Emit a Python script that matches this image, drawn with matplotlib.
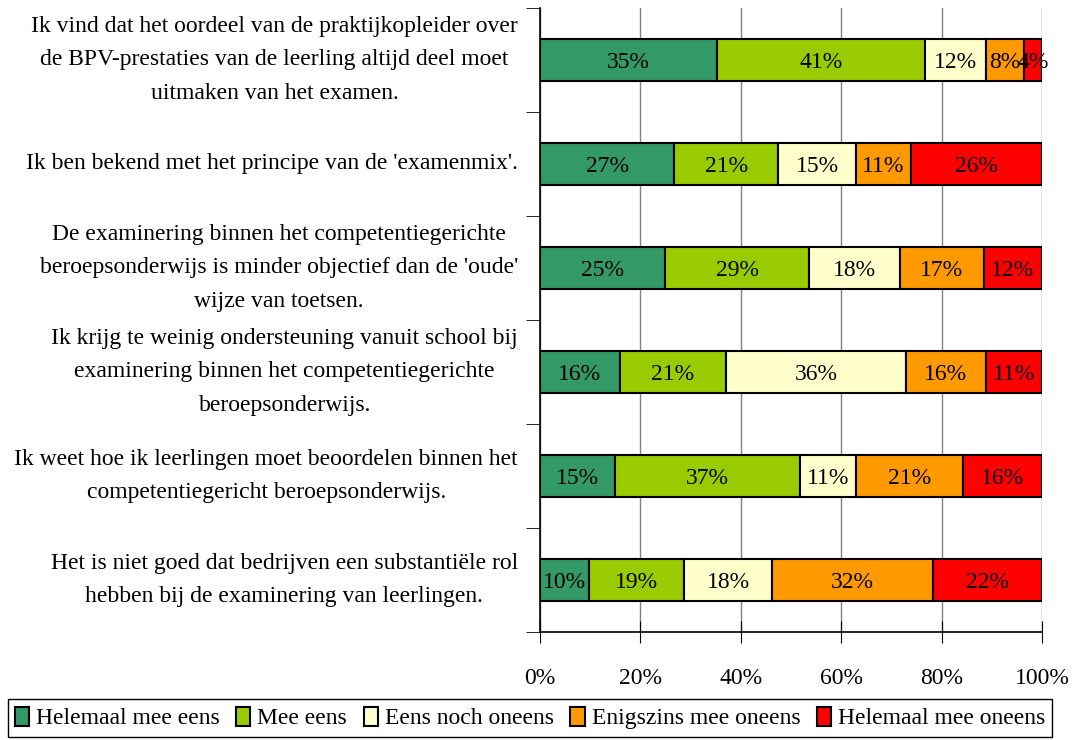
import matplotlib.pyplot as plt
import matplotlib.transforms as mtransforms
import numpy as np

# statements, top to bottom
statements = [
    "Ik vind dat het oordeel van de praktijkopleider over\nde BPV-prestaties van de leerling altijd deel moet\nuitmaken van het examen.",
    "Ik ben bekend met het principe van de 'examenmix'.",
    "De examinering binnen het competentiegerichte\nberoepsonderwijs is minder objectief dan de 'oude'\nwijze van toetsen.",
    "Ik krijg te weinig ondersteuning vanuit school bij\nexaminering binnen het competentiegerichte\nberoepsonderwijs.",
    "Ik weet hoe ik leerlingen moet beoordelen binnen het\ncompetentiegericht beroepsonderwijs.",
    "Het is niet goed dat bedrijven een substantiële rol\nhebben bij de examinering van leerlingen.",
]

answers = ["Helemaal mee eens", "Mee eens", "Eens noch oneens",
           "Enigszins mee oneens", "Helemaal mee oneens"]

helemaal_eens = [35.3, 26.7, 24.9, 15.9, 14.9, 9.8]
mee_eens = [41.3, 20.8, 28.7, 21.2, 36.9, 18.9]
noch = [12.2, 15.4, 18.1, 35.8, 11.1, 17.6]
enigszins_oneens = [7.6, 11.0, 16.7, 15.9, 21.4, 31.9]
helemaal_oneens = [3.6, 26.1, 11.6, 11.2, 15.7, 21.8]

colors = ["#339966", "#99cc00", "#ffffcc", "#ff9900", "#ff0000"]

plt.rcParams["font.family"] = "Liberation Serif"
plt.rcParams["font.size"] = 17

fig = plt.figure(figsize=(10.72, 7.40), dpi=100)
ax = fig.add_axes([540 / 1072, 108 / 740, 502 / 1072, 624 / 740])

series = [helemaal_eens, mee_eens, noch, enigszins_oneens, helemaal_oneens]
y = np.arange(len(statements))
left = np.zeros(len(statements))
for name, vals, col in zip(answers, series, colors):
    vals = np.array(vals) / 100
    bars = ax.barh(y, vals, left=left, height=0.4, color=col,
                   edgecolor="black", linewidth=1.5, label=name, zorder=3)
    for b, v in zip(bars, vals):
        ax.text(b.get_x() + b.get_width() / 2, b.get_y() + b.get_height() / 2,
                "%d%%" % round(v * 100), ha="center", va="center_baseline",
                fontsize=17, zorder=4)
    left += vals

ax.set_xlim(0, 1)
ax.set_ylim(len(statements) - 0.5, -0.5)
ax.set_xticks(np.linspace(0, 1, 6))
ax.set_xticklabels(["0%", "20%", "40%", "60%", "80%", "100%"])
ax.tick_params(axis="x", direction="inout", length=16, pad=18)

# category labels drawn as texts so the line spacing can be set
ax.set_yticks(y)
ax.set_yticklabels([])
ax.tick_params(axis="y", which="major", length=0)
ax.set_yticks(np.arange(-0.5, len(statements)), minor=True)
ax.tick_params(axis="y", which="minor", length=10, direction="out")
trans = mtransforms.offset_copy(ax.get_yaxis_transform(), fig=fig,
                                x=-22, y=0, units="dots")
for yi, s in zip(y, statements):
    ax.text(0, yi, s, transform=trans, ha="right", va="center",
            multialignment="center", linespacing=1.8, fontsize=17)

ax.grid(axis="x", color="#808080", linewidth=1, zorder=0)
ax.spines["top"].set_visible(False)
ax.spines["right"].set_visible(False)
ax.spines["left"].set_linewidth(1.2)
ax.spines["bottom"].set_linewidth(1.2)

fig.legend(loc="center", bbox_to_anchor=(530 / 1072, 1 - 718 / 740), ncol=5,
           fancybox=False, edgecolor="black", framealpha=1,
           handlelength=0.6, handleheight=0.9, handletextpad=0.3,
           columnspacing=0.7, borderpad=0.3, fontsize=17)

fig.savefig("out.png", dpi=100)
